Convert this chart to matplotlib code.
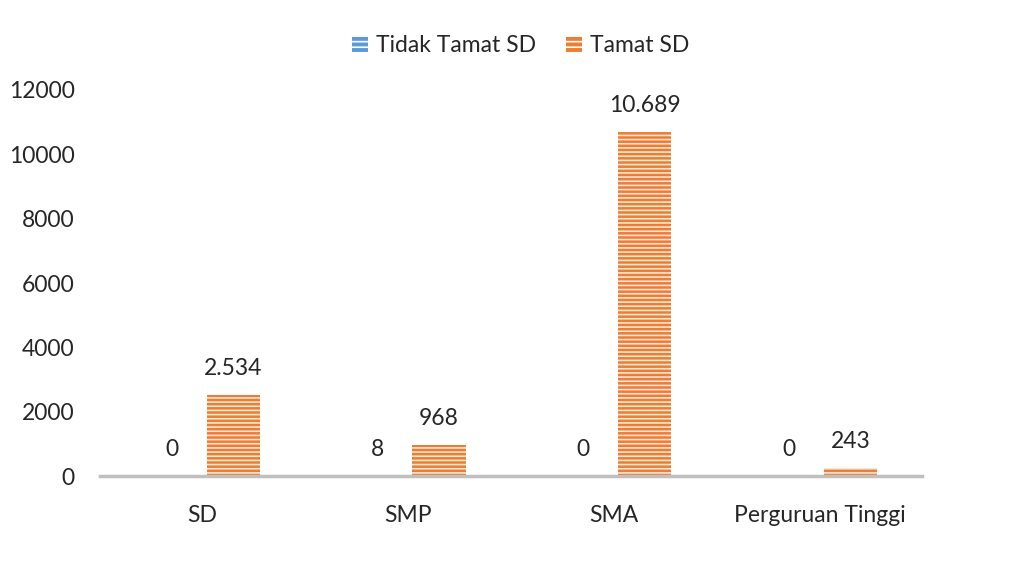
import numpy as np
import matplotlib.pyplot as plt
from matplotlib.patches import Patch

plt.rcParams['font.family'] = ['Lato', 'DejaVu Sans']
plt.rcParams['hatch.linewidth'] = 1.2

# Data
categories = ['SD', 'SMP', 'SMA', 'Perguruan Tinggi']
tidak_tamat = [0, 8, 0, 0]
tamat = [2534, 968, 10689, 243]
series_names = ['Tidak Tamat SD', 'Tamat SD']

blue = '#5B9BD5'
orange = '#ED7D31'


def fmt(v):
    # dot as thousands separator
    return '{:,}'.format(v).replace(',', '.')


fig = plt.figure(figsize=(10.17, 5.73), dpi=100)
ax = fig.add_axes([0.098, 0.169, 0.809, 0.674])

x = np.arange(len(categories))
w = 0.26
off = 0.15

b1 = ax.bar(x - off, tidak_tamat, w, color=blue, edgecolor='#FBE5D6', hatch='----', lw=0)
b2 = ax.bar(x + off, tamat, w, color=orange, edgecolor='#FBE5D6', hatch='----', lw=0)

for bars, vals in [(b1, tidak_tamat), (b2, tamat)]:
    for r, v in zip(bars, vals):
        ax.annotate(fmt(v), (r.get_x() + r.get_width() / 2, v),
                    xytext=(0, 19), textcoords='offset points',
                    ha='center', va='center', fontsize=16.5, color='#262626')

ax.set_xlim(-0.5, 3.5)
ax.set_ylim(0, 12000)
ax.set_yticks(range(0, 12001, 2000))
ax.set_xticks(x)
ax.set_xticklabels(categories)
ax.tick_params(axis='both', length=0, labelsize=16.5, colors='#262626')
ax.tick_params(axis='x', pad=21)
ax.tick_params(axis='y', pad=18)

for s in ['top', 'right', 'left']:
    ax.spines[s].set_visible(False)
ax.spines['bottom'].set_color('#BFBFBF')
ax.spines['bottom'].set_linewidth(2.5)

handles = [Patch(facecolor=blue, edgecolor='white', hatch='---', lw=0),
           Patch(facecolor=orange, edgecolor='white', hatch='---', lw=0)]
fig.legend(handles, series_names, loc='center', bbox_to_anchor=(0.512, 0.92),
           ncol=2, frameon=False, fontsize=16.5, handlelength=0.7, handleheight=0.7,
           handletextpad=0.35, columnspacing=1.3, labelcolor='#262626')

fig.savefig('out.png', dpi=100)
